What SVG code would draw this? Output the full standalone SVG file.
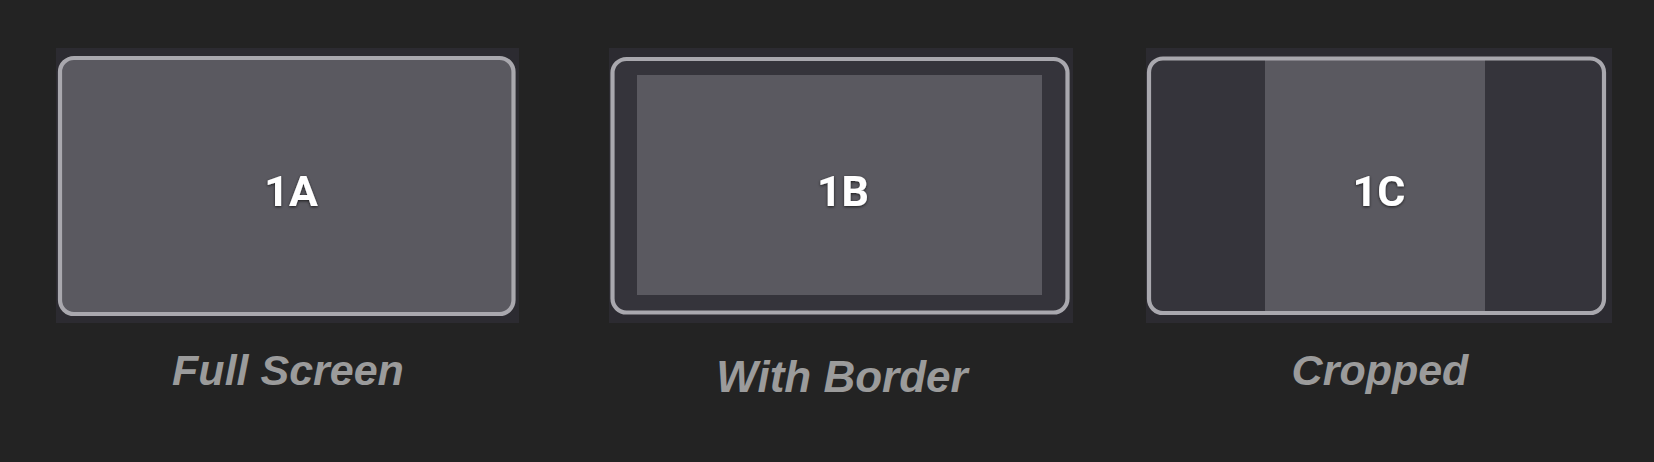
<svg xmlns="http://www.w3.org/2000/svg" width="1654" height="462" viewBox="0 0 1654 462">
<defs>
<style>
.bgsq{fill:#2c2b31}
.frame{fill:none;stroke:#a9a8ae;stroke-width:4.2}
.light{fill:#5a5960}
.dark{fill:#35343b}
.id{font-family:Roboto,"Liberation Sans",sans-serif;font-weight:bold;font-size:43px;fill:#ffffff;text-anchor:middle}
.cap{font-family:"Liberation Sans",Arial,sans-serif;font-weight:bold;font-style:italic;fill:#9b9b9b;text-anchor:middle}
</style>
<filter id="sh" x="-20%" y="-20%" width="140%" height="140%">
<feDropShadow dx="0" dy="1" stdDeviation="1.5" flood-color="#000" flood-opacity="0.7"/>
</filter>
</defs>
<rect width="1654" height="462" fill="#232323"/>
<g id="node-1A">
<rect class="bgsq" x="56" y="48" width="463" height="275"/>
<rect class="light" x="60" y="58" width="453.5" height="256" rx="14"/>
<rect class="frame" x="60" y="58" width="453.5" height="256" rx="14"/>
<text class="id" x="291" y="206" filter="url(#sh)">1A</text>
<text class="cap" x="288" y="385" font-size="43">Full Screen</text>
</g>
<g id="node-1B">
<rect class="bgsq" x="609" y="48" width="464" height="275"/>
<rect class="dark" x="612.5" y="59" width="455" height="253.5" rx="14"/>
<rect class="light" x="637" y="75" width="405" height="220"/>
<rect class="frame" x="612.5" y="59" width="455" height="253.5" rx="14"/>
<text class="id" x="843" y="206" filter="url(#sh)">1B</text>
<text class="cap" x="842" y="392" font-size="44">With Border</text>
</g>
<g id="node-1C">
<rect class="bgsq" x="1146" y="48" width="466" height="275"/>
<rect class="dark" x="1149" y="58.5" width="455" height="254.5" rx="14"/>
<rect class="light" x="1265" y="60" width="220" height="251"/>
<rect class="frame" x="1149" y="58.5" width="455" height="254.5" rx="14"/>
<text class="id" x="1379" y="206" filter="url(#sh)">1C</text>
<text class="cap" x="1380" y="385" font-size="43">Cropped</text>
</g>
<g id="connectors"/>
</svg>
